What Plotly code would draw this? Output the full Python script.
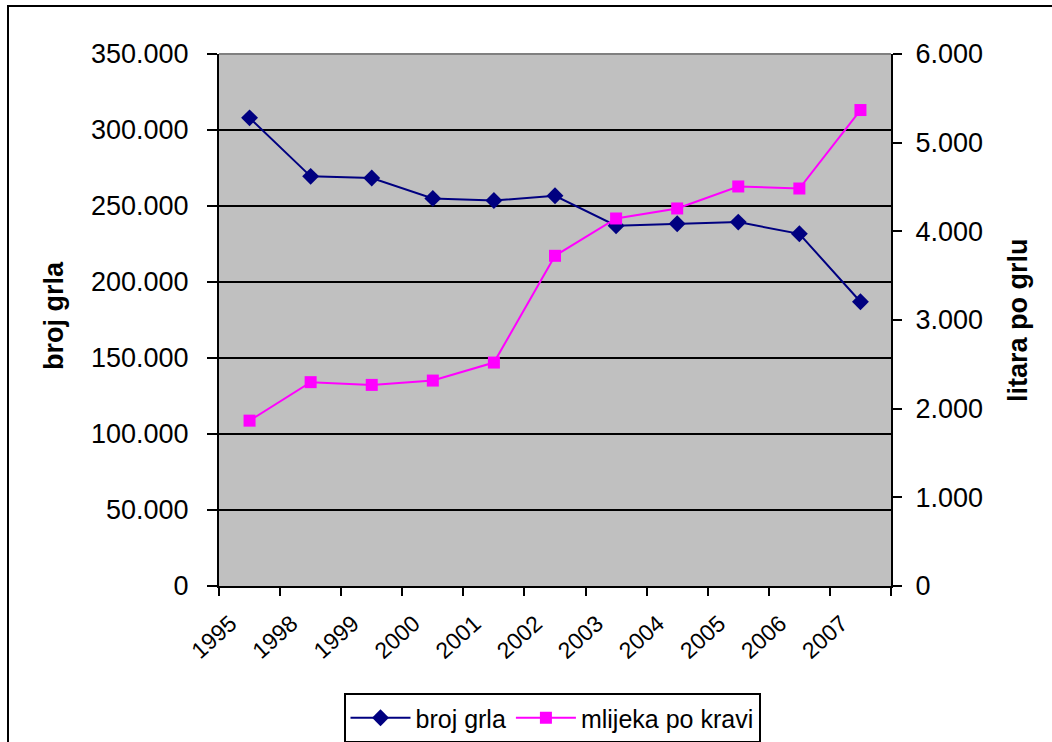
import plotly.graph_objects as go

# Godine i vrijednosti
years = ["1995", "1998", "1999", "2000", "2001", "2002", "2003", "2004", "2005", "2006", "2007"]
broj_grla = [308000, 269500, 268400, 255000, 253600, 256700, 237000, 238300, 239400, 231700, 187000]
mlijeka_po_kravi = [1865, 2299, 2268, 2317, 2520, 3724, 4145, 4258, 4506, 4483, 5368]

left_ticks = [0, 50000, 100000, 150000, 200000, 250000, 300000, 350000]
right_ticks = [0, 1000, 2000, 3000, 4000, 5000, 6000]

FONT = "Liberation Sans, Arial, sans-serif"
W, H = 1052, 742
L, R, T, B = 219, 161, 54, 156
PW, PH = W - L - R, H - T - B


def px_x(x):
    return (x - L) / PW


def px_y(y):
    return (H - B - y) / PH


fig = go.Figure()
fig.add_trace(go.Scatter(
    x=years, y=broj_grla, name="broj grla", mode="lines+markers",
    line=dict(color="#000080", width=2),
    marker=dict(symbol="diamond", size=13, color="#000080"),
    yaxis="y",
))
fig.add_trace(go.Scatter(
    x=years, y=mlijeka_po_kravi, name="mlijeka po kravi", mode="lines+markers",
    line=dict(color="#FF00FF", width=2),
    marker=dict(symbol="square", size=12, color="#FF00FF"),
    yaxis="y2",
))

fig.update_layout(
    width=W, height=H,
    margin=dict(l=L, r=R, t=T, b=B, pad=0),
    paper_bgcolor="white",
    plot_bgcolor="#C0C0C0",
    separators=",.",
    font=dict(family=FONT, size=27, color="black"),
    xaxis=dict(
        type="category", range=[-0.5, len(years) - 0.5],
        tickson="boundaries", ticks="outside", ticklen=8, tickwidth=2, tickcolor="black",
        showline=True, linecolor="black", linewidth=2,
        showgrid=False, tickangle=-42,
        tickfont=dict(size=23),
        ticklabelshift=-19, ticklabelstandoff=13,
    ),
    yaxis=dict(
        range=[0, 350000], tickvals=left_ticks, tickformat=",d",
        ticks="outside", ticklen=10, tickwidth=2, tickcolor="black",
        showline=True, linecolor="black", linewidth=2,
        showgrid=True, gridcolor="black", gridwidth=2, zeroline=False,
        ticklabelstandoff=13, tickfont=dict(size=27),
    ),
    yaxis2=dict(
        range=[0, 6000], tickvals=right_ticks, tickformat=",d",
        overlaying="y", side="right",
        ticks="outside", ticklen=9, tickwidth=2, tickcolor="black",
        showline=True, linecolor="black", linewidth=2,
        showgrid=False, zeroline=False,
        ticklabelstandoff=8, tickfont=dict(size=27),
    ),
    showlegend=True,
    legend=dict(
        orientation="h", xref="container", yref="container",
        x=552 / W, xanchor="center", y=(H - 693) / H, yanchor="top",
        bordercolor="black", borderwidth=2, bgcolor="white",
        font=dict(size=25), itemwidth=60,
    ),
    annotations=[
        dict(text="<b>broj grla</b>", textangle=-90, x=px_x(54), y=px_y(316),
             xanchor="center", yanchor="middle",
             xref="paper", yref="paper", showarrow=False, font=dict(size=27)),
        dict(text="<b>litara po grlu</b>", textangle=-90, x=px_x(1018), y=px_y(320),
             xanchor="center", yanchor="middle",
             xref="paper", yref="paper", showarrow=False, font=dict(size=27)),
    ],
    shapes=[
        # outer chart frame
        dict(type="rect", xref="paper", yref="paper",
             x0=px_x(8), x1=px_x(1070), y0=px_y(760), y1=px_y(6),
             line=dict(color="black", width=2), layer="below"),
        # grey top edge of plot area
        dict(type="line", xref="paper", yref="paper", x0=0, x1=1, y0=1, y1=1,
             line=dict(color="#808080", width=2), layer="above"),
    ],
)

fig.write_html("out.html")
